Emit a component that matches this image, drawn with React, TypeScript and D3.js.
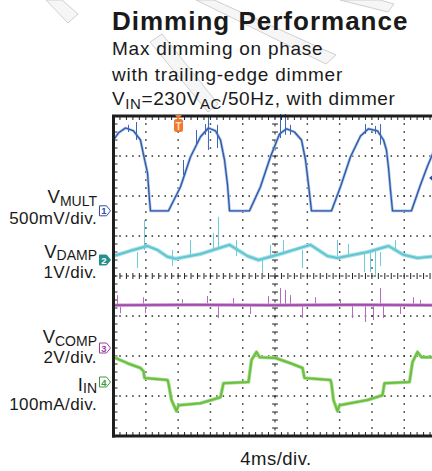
import { scaleLinear, line, range } from 'd3'

// scope traces, time in ms (4 ms/div), amplitude in screen divisions
const vMult: [number, number][] = [
  [0, 3.4], [0.62, 3.58], [1.49, 3.7], [2.48, 3.63], [3.34, 3.4], [3.72, 3.03], [4.21, 2.58],
  [4.46, 1.9], [4.58, 1.63], [6.81, 1.63], [8.3, 2.23], [9.54, 2.98], [10.77, 3.48], [11.76, 3.7],
  [12.63, 3.63], [13.25, 3.4], [13.75, 2.9], [14.12, 2.28], [14.37, 1.63], [16.84, 1.63],
  [18.2, 2.23], [19.44, 2.98], [20.56, 3.55], [21.42, 3.68], [22.41, 3.6], [23.28, 3.4],
  [23.78, 2.9], [24.15, 2.28], [24.52, 1.63], [27.0, 1.63], [28.11, 2.23], [29.35, 2.98],
  [30.59, 3.5], [31.58, 3.68], [32.69, 3.63], [33.44, 3.4], [33.8, 3.15], [34.06, 2.7],
  [34.3, 2.15], [34.55, 1.63], [36.9, 1.63], [38.02, 2.28], [38.89, 2.75], [40, 3.28],
]
const vDamp: [number, number][] = [
  [0, 0.5], [2.1, 0.63], [4.21, 0.75], [5.45, 0.65], [6.69, 0.48], [7.68, 0.43], [10.77, 0.55],
  [14.37, 0.78], [16.59, 0.5], [17.96, 0.4], [20.31, 0.53], [24.4, 0.78], [26.5, 0.5],
  [27.74, 0.45], [31.46, 0.6], [34.06, 0.75], [35.91, 0.53], [37.65, 0.45], [40, 0.5],
]
const vComp: [number, number][] = [
  [0, -0.73], [10, -0.72], [20, -0.73], [30, -0.72], [40, -0.73],
]
const iIn: [number, number][] = [
  [0, -2.03], [1.73, -2.18], [3.34, -2.3], [3.72, -2.38], [3.84, -2.55], [6.69, -2.6],
  [6.81, -2.68], [7.18, -3.1], [7.8, -3.38], [8.05, -3.23], [10.77, -3.18], [13.25, -3.03],
  [13.62, -2.68], [16.72, -2.65], [17.09, -2.1], [17.71, -1.9], [18.08, -2.03], [20.06, -2.05],
  [21.92, -2.18], [23.41, -2.3], [23.65, -2.55], [26.87, -2.6], [27.0, -2.7], [27.24, -3.1],
  [27.74, -3.38], [27.99, -3.23], [31.46, -3.1], [33.31, -2.98], [33.56, -2.68], [36.66, -2.65],
  [37.03, -2.15], [37.65, -1.9], [38.14, -2.03], [40, -2.03],
]

// glitches: [time, from, to]
const vMultSpikes: [number, number, number][] = [
  [1.86, 3.78, 3.6], [2.85, 3.85, 3.4], [8.67, 2.9, 2.53], [10.28, 3.65, 3.28], [11.39, 3.8, 3.53],
  [11.76, 3.98, 3.15], [12.88, 3.78, 3.2], [20.68, 4.05, 3.45], [21.3, 4.05, 3.53],
  [21.92, 3.78, 3.53], [31.21, 3.8, 3.55], [32.45, 3.75, 3.55], [33.07, 3.8, 3.28],
]
const vDampSpikes: [number, number, number][] = [
  [2.97, 0.6, 0.2], [3.84, 1.4, 0.65], [7.31, 0.65, 0.25], [9.54, 0.9, 0.5], [12.38, 1.08, 0.65],
  [13.0, 1.48, 0.7], [15.23, 0.9, 0.5], [18.45, 0.45, 0.08], [19.44, 0.78, 0.45], [21.05, 0.9, 0.53],
  [23.41, 0.65, 0.2], [27.74, 0.9, 0.5], [29.1, 0.8, 0.5], [31.08, 0.6, 0.1], [31.83, 0.65, 0.1],
  [32.45, 0.65, 0.03], [33.07, 0.6, 0.25], [34.92, 0.9, 0.65],
]
const vCompSpikes: [number, number, number][] = [
  [0.5, -0.73, -0.48], [3.72, -0.73, -0.53], [8.54, -0.73, -0.58], [11.64, -0.73, -0.5],
  [14.86, -0.73, -0.55], [19.2, -0.73, -0.5], [20.68, -0.73, -0.3], [21.3, -0.73, -0.35],
  [21.92, -0.73, -0.48], [25.02, -0.73, -0.53], [28.11, -0.73, -0.58], [33.07, -0.73, -0.3],
  [37.15, -0.73, -0.53], [38.02, -0.73, -0.6],
  [0.87, -0.73, -0.93], [3.96, -0.73, -0.93], [13.0, -0.73, -1.05], [16.97, -0.73, -0.95],
  [23.41, -0.73, -1.05], [29.6, -0.73, -1.05], [31.21, -0.73, -1.15], [32.2, -0.73, -1.1],
  [33.44, -0.73, -1.05], [35.54, -0.73, -0.95],
]

const channelNames = ['MULT', 'DAMP', 'COMP', 'IN']
const channelSymbols = ['V', 'V', 'V', 'I']
const channelScales = ['500mV/div.', '1V/div.', '2V/div.', '100mA/div.']
const channelOffsets = [1.63, 0.4, -1.8, -2.65]
const triggerTime = 8.05
const triggerLevel = 2.45

const font = '"Liberation Sans", Arial, Helvetica, sans-serif'

function App() {
  const left = 113.5
  const top = 116
  const divX = 32.3
  const divY = 40

  const x = scaleLinear().domain([0, 40]).range([left, left + 10 * divX])
  const y = scaleLinear().domain([4, -4]).range([top, top + 8 * divY])
  const path = line<[number, number]>().x(d => x(d[0])).y(d => y(d[1]))

  const xMinor = range(0, 40.001, 0.8)
  const yMinor = range(-4, 4.001, 0.2)

  const markerColors = [
    { stroke: '#2f4f9e', fill: '#fff', text: '#2f4f9e' },
    { stroke: '#23908c', fill: '#23908c', text: '#fff' },
    { stroke: '#9a3fa4', fill: '#fff', text: '#9a3fa4' },
    { stroke: '#3c9a3c', fill: '#fff', text: '#3c9a3c' },
  ]
  const labelY = [
    [203, 224],
    [257.5, 277.5],
    [343, 362.5],
    [390.5, 410],
  ]

  return (
    <div style={{ position: 'absolute', left: 0, top: 0 }}>
      <svg width={432} height={471} style={{ display: 'block' }} fontFamily={font}>
        <rect width={432} height={471} fill="#fff" />

        {/* faint watermark bands */}
        <g fill="#f6f6f6" stroke="#cfcfcf" strokeWidth={1}>
          <path d="M46,0 L68,23 L78,14 L62,0 Z" />
          <path d="M196,0 L326,64 L336,55 L214,0 Z" />
          <path d="M340,0 L388,12 L394,4 L380,0 Z" />
          <path d="M150,42 L208,112 L218,104 L162,34 Z" />
        </g>

        <text x={112} y={30} fontSize={26} fontWeight="bold" letterSpacing={1} fill="#1a1a1a">
          Dimming Performance
        </text>
        <text x={112} y={55} fontSize={19} letterSpacing={0.75} fill="#1a1a1a">
          Max dimming on phase
        </text>
        <text x={112} y={81} fontSize={19} letterSpacing={0.75} fill="#1a1a1a">
          with trailing-edge dimmer
        </text>
        <text x={112} y={105} fontSize={19} letterSpacing={0.6} fill="#1a1a1a">
          V<tspan fontSize={15} dy={4}>IN</tspan>
          <tspan dy={-4}>=230V</tspan>
          <tspan fontSize={15} dy={4}>AC</tspan>
          <tspan dy={-4}>/50Hz, with dimmer</tspan>
        </text>

        {/* channel labels */}
        {channelNames.map((n, i) => (
          <g key={n} fill="#1a1a1a">
            <text x={97} y={labelY[i][0]} textAnchor="end" fontSize={18.5}>
              {channelSymbols[i]}
              <tspan fontSize={14} dy={2.5}>{n}</tspan>
            </text>
            <text x={97} y={labelY[i][1]} textAnchor="end" fontSize={17} letterSpacing={0.4}>
              {channelScales[i]}
            </text>
          </g>
        ))}

        {/* grid dots */}
        <g fill="#2a2a2a">
          {[-3, -2, -1, 1, 2, 3].map(v =>
            xMinor.map(t => (
              <rect key={`h${v}_${t}`} x={x(t) - 0.7} y={y(v) - 0.7} width={1.5} height={1.5} />
            ))
          )}
          {[4, 8, 12, 16, 24, 28, 32, 36].map(t =>
            yMinor.map(v => (
              <rect key={`v${t}_${v}`} x={x(t) - 0.7} y={y(v) - 0.7} width={1.5} height={1.5} />
            ))
          )}
        </g>

        {/* center cross with minor ticks */}
        <g stroke="#222" strokeWidth={1}>
          <line x1={x(0)} x2={x(40)} y1={y(0)} y2={y(0)} strokeDasharray="2.5 4" />
          <line x1={x(20)} x2={x(20)} y1={y(4)} y2={y(-4)} strokeDasharray="2.5 5.5" />
          {xMinor.map(t => (
            <line key={`ct${t}`} x1={x(t)} x2={x(t)} y1={y(0) - 3} y2={y(0) + 3} />
          ))}
          {yMinor.map(v => (
            <line key={`cv${v}`} x1={x(20) - 3} x2={x(20) + 3} y1={y(v)} y2={y(v)} />
          ))}
          {xMinor.map(t => (
            <line key={`tt${t}`} x1={x(t)} x2={x(t)} y1={y(4)} y2={y(4) + 4} />
          ))}
          {xMinor.map(t => (
            <line key={`bt${t}`} x1={x(t)} x2={x(t)} y1={y(-4)} y2={y(-4) - 4} />
          ))}
          {yMinor.map(v => (
            <line key={`lt${v}`} x1={x(0)} x2={x(0) + 4} y1={y(v)} y2={y(v)} />
          ))}
        </g>

        {/* traces */}
        <g fill="none" strokeLinejoin="round">
          <path d={path(vDamp) || ''} stroke="#a9e1e7" strokeWidth={4} />
          <path d={path(vDamp) || ''} stroke="#62c6d0" strokeWidth={2} />
          {vDampSpikes.map(([t, a, b]) => (
            <line key={`ds${t}`} x1={x(t)} x2={x(t)} y1={y(a)} y2={y(b)} stroke="#6ccbd5" strokeWidth={1} />
          ))}

          {vCompSpikes.map(([t, a, b], i) => (
            <line key={`cs${i}`} x1={x(t)} x2={x(t)} y1={y(a)} y2={y(b)} stroke="#b36bbb" strokeWidth={1} />
          ))}
          <path d={path(vComp) || ''} stroke="#cc98d2" strokeWidth={3.4} />
          <path d={path(vComp) || ''} stroke="#a04aab" strokeWidth={1.8} />

          <path d={path(iIn) || ''} stroke="#a9dc8e" strokeWidth={3.6} />
          <path d={path(iIn) || ''} stroke="#6bbf41" strokeWidth={2} />

          <path d={path(vMult) || ''} stroke="#a8bfe4" strokeWidth={2.8} />
          <path d={path(vMult) || ''} stroke="#2c59a8" strokeWidth={1.3} />
          {vMultSpikes.map(([t, a, b]) => (
            <line key={`ms${t}`} x1={x(t)} x2={x(t)} y1={y(a)} y2={y(b)} stroke="#3b67b3" strokeWidth={1} />
          ))}
        </g>

        {/* frame */}
        <g stroke="#1e1e1e" strokeWidth={3}>
          <line x1={x(0) - 1.5} x2={440} y1={y(4)} y2={y(4)} />
          <line x1={x(0) - 1.5} x2={440} y1={y(-4)} y2={y(-4)} />
          <line x1={x(0)} x2={x(0)} y1={y(4)} y2={y(-4) + 1.5} />
        </g>

        {/* channel ground markers */}
        {channelOffsets.map((v, i) => {
          const cy = y(v)
          const c = markerColors[i]
          return (
            <g key={`m${i}`}>
              <path
                d={`M99.5,${cy - 5} h7 l4,5 l-4,5 h-7 z`}
                fill={c.fill}
                stroke={c.stroke}
                strokeWidth={1}
              />
              <text x={104} y={cy + 3.5} fontSize={9.5} fontWeight="bold" textAnchor="middle" fill={c.text}>
                {i + 1}
              </text>
            </g>
          )
        })}

        {/* trigger position and level */}
        <g fill="#f07a2a">
          <path d={`M${x(triggerTime) - 3.5},${y(4) - 1} h7 l-3.5,4 z`} />
          <rect x={x(triggerTime) - 4.5} y={y(4) + 3} width={9} height={13} rx={2.5} />
          <text x={x(triggerTime)} y={y(4) + 14} fontSize={10} fontWeight="bold" textAnchor="middle" fill="#fde0c8">
            T
          </text>
        </g>
        <path d={`M${x(39.2) - 1},${y(triggerLevel)} l6,-5 v10 z`} fill="#2f4f9e" />

        <text x={276} y={465} fontSize={18.5} letterSpacing={0.5} textAnchor="middle" fill="#1a1a1a">
          4ms/div.
        </text>
      </svg>
    </div>
  )
}

export default App
